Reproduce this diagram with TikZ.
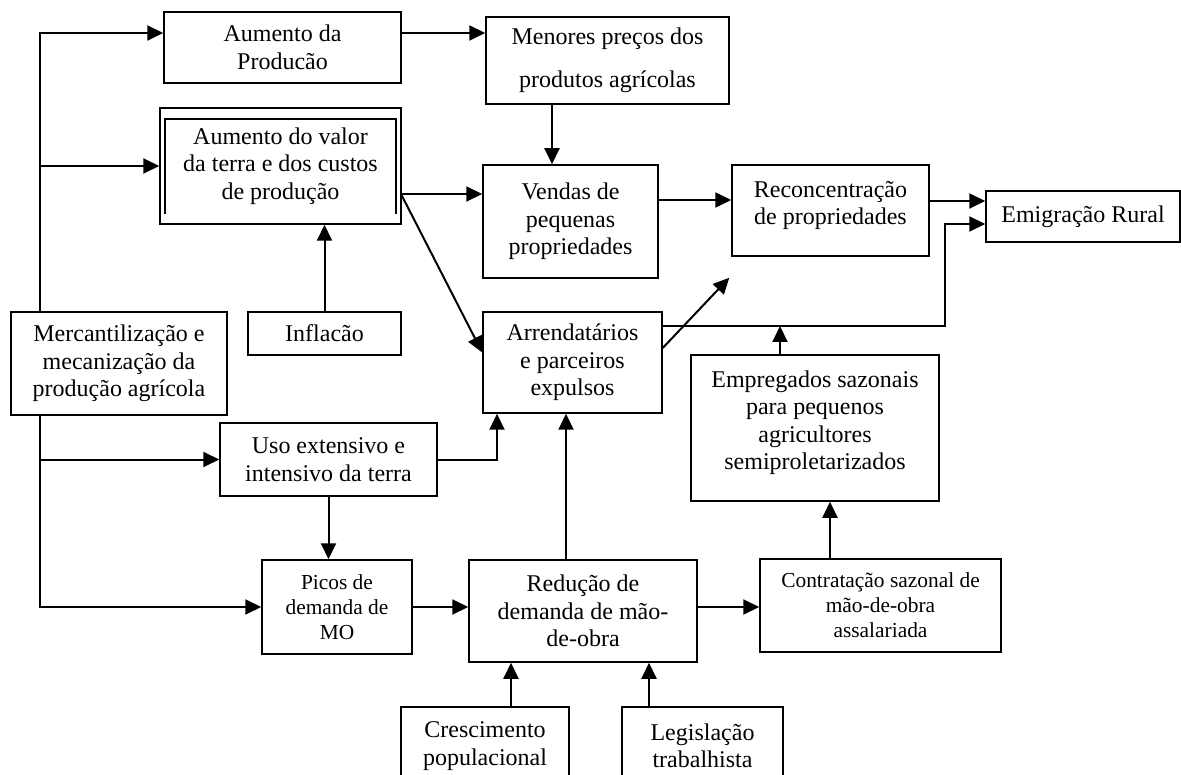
\documentclass[tikz,border=0pt]{standalone}
\usepackage{fontspec}
\setmainfont{Liberation Serif}
\usetikzlibrary{positioning,calc,arrows.meta}

\tikzset{
  box/.style={draw, rectangle, line width=1.5pt, align=center, inner sep=0pt},
  arr/.style={line width=2pt, -{Triangle[length=16pt,width=15pt]}},
  small/.style={font=\fontsize{21.4}{25}\selectfont}
}

\begin{document}
\begin{tikzpicture}[x=1pt, y=-1pt, font=\fontsize{24}{27.5}\selectfont]
    \useasboundingbox (0,0) rectangle (1181,775);
    \clip (0,0) rectangle (1181,775);
    % boxes
    \node[box, minimum width=237pt, minimum height=71pt] (prod) at (282.5,47.5) {Aumento da\\Producão};
    \node[box, minimum width=241pt, minimum height=116pt] (valor) at (280.5,166) {Aumento do valor\\da terra e dos custos\\de produção};
    \node[box, minimum width=243pt, minimum height=87pt] (precos) at (607.5,60.5) {Menores preços dos\\[15.5pt]produtos agrícolas};
    \node[box, minimum width=175pt, minimum height=113pt] (vendas) at (570.5,221.5) {Vendas de\\pequenas\\propriedades};
    \node[box, minimum width=197pt, minimum height=91pt] (reconc) at (830.5,210.5) {Reconcentração\\de propriedades\\[-12pt]};
    \node[box, minimum width=194pt, minimum height=51pt] (emig) at (1083,216.5) {Emigração Rural};
    \node[box, minimum width=216pt, minimum height=103pt] (merc) at (119,363.5) {Mercantilização e\\mecanização da\\produção agrícola};
    \node[box, minimum width=153pt, minimum height=43pt] (infl) at (324.5,333.5) {Inflacão};
    \node[box, minimum width=179pt, minimum height=101pt] (arrend) at (572.5,362.5) {Arrendatários\\e parceiros\\expulsos};
    \node[box, minimum width=248pt, minimum height=146pt] (empreg) at (815,428) {Empregados sazonais\\para pequenos\\agricultores\\semiproletarizados\\[-12pt]};
    \node[box, minimum width=217pt, minimum height=73pt] (uso) at (328.5,459.5) {Uso extensivo e\\intensivo da terra};
    \node[box, small, minimum width=150pt, minimum height=94pt] (picos) at (337,607) {Picos de\\demanda de\\MO};
    \node[box, minimum width=228pt, minimum height=102pt] (reduc) at (583,611) {Redução de\\demanda de mão-\\de-obra};
    \node[box, small, minimum width=241pt, minimum height=93pt] (contr) at (880.5,605.5) {Contratação sazonal de\\mão-de-obra\\assalariada};
    \node[box, minimum width=168pt, minimum height=78pt] (cresc) at (485,746) {Crescimento\\populacional};
    \node[box, minimum width=161pt, minimum height=78pt] (legis) at (702.5,746) {Legislação\\trabalhista};
    % inner frame of the double box
    \draw[line width=2pt] ([shift={(6,-11)}]valor.south west) |- ([shift={(-6,12)}]valor.north east) -- ([shift={(-6,-11)}]valor.south east);
    %
    \coordinate (trunk) at (40,33);
    \coordinate (vo) at (401,194);
    \coordinate (ra) at ([yshift=36.5pt]arrend.east);
    \coordinate (bend) at (945,224);
    %
    \draw[arr] (merc.north -| trunk) -- (trunk) -- (trunk -| prod.west);
    \draw[arr] (trunk |- valor.west) -- (valor.west);
    \draw[arr] (merc.south -| trunk) |- (picos.west);
    \draw[arr] (trunk |- uso.west) -- (uso.west);
    %
    \draw[arr] (trunk -| prod.east) -- (trunk -| precos.west);
    \draw[arr] ([xshift=-55.5pt]precos.south) -- ([xshift=-55.5pt]precos.south |- vendas.north);
    \draw[arr] (vo) -- (vo -| vendas.west);
    \draw[arr] (vo) -- ([yshift=10pt]arrend.west);
    \draw[arr] (infl.north) -- (infl.north |- valor.south);
    %
    \draw[arr] ([yshift=21.5pt]vendas.east) -- ([yshift=21.5pt]vendas.east -| reconc.west);
    \draw[arr] ([yshift=9.5pt]reconc.east) -- ([yshift=9.5pt]reconc.east -| emig.west);
    \draw[arr] (ra) -| (bend) -- (bend -| emig.west);
    \draw[arr] ([yshift=14.5pt]arrend.east) -- ([shift={(-2,21)}]reconc.south west);
    \draw[arr] ([xshift=-35pt]empreg.north) -- ([xshift=-35pt]empreg.north |- ra);
    %
    \draw[arr] (uso.east) -| ([xshift=-75.5pt]arrend.south);
    \draw[arr] (uso.south) -- (uso.south |- picos.north);
    \draw[arr] (picos.east) -- (picos.east -| reduc.west);
    \draw[arr] ([xshift=-17pt]reduc.north) -- ([xshift=-17pt]reduc.north |- arrend.south);
    \draw[arr] (reduc.east |- picos.east) -- (picos.east -| contr.west);
    \draw[arr] ([xshift=-50.5pt]contr.north) -- ([xshift=-50.5pt]contr.north |- empreg.south);
    \draw[arr] ([xshift=26pt]cresc.north) -- ([xshift=26pt]cresc.north |- reduc.south);
    \draw[arr] ([xshift=-53.5pt]legis.north) -- ([xshift=-53.5pt]legis.north |- reduc.south);
\end{tikzpicture}
\end{document}
